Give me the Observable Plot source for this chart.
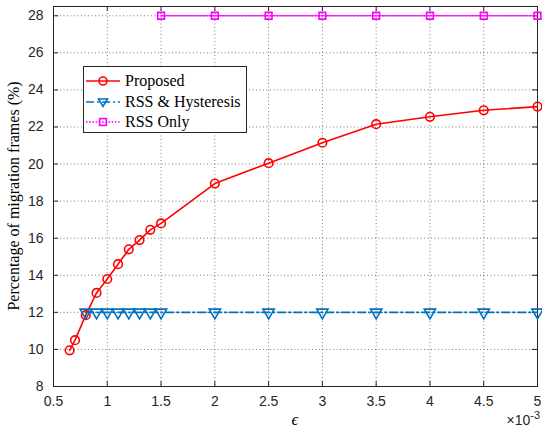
<!DOCTYPE html>
<html><head><meta charset="utf-8">
<script src="https://cdn.jsdelivr.net/npm/d3@7"></script>
<script src="https://cdn.jsdelivr.net/npm/@observablehq/plot@0.6"></script>
<style>
body{margin:0;background:#fff;}
#wrap{position:relative;width:542px;height:434px;overflow:hidden;}
#legend{position:absolute;left:83px;top:66px;width:162px;height:65px;border:1px solid #262626;background:#fff;
  font-family:"Liberation Serif","Times New Roman",serif;font-size:16px;color:#000;}
.row{position:absolute;left:0;height:20px;display:flex;align-items:center;}
.row svg{display:block;}
.row span{margin-left:3px;white-space:nowrap;}
#ylab{position:absolute;left:14px;top:196px;transform:translate(-50%,-50%) rotate(-90deg);white-space:nowrap;
  font-family:"Liberation Serif","Times New Roman",serif;font-size:16px;color:#000;}
#xlab{position:absolute;left:295px;top:430px;transform:translate(-50%,-100%);
  font-family:"Liberation Serif","Times New Roman",serif;font-style:italic;font-size:17px;color:#000;}
#xexp{position:absolute;right:2px;top:409px;font-family:"Liberation Sans",Arial,sans-serif;font-size:14px;color:#262626;}
#xexp sup{font-size:11px;}
</style></head><body><div id="wrap"></div>
<script>
// x values in units of 1e-3
const proposedX = [0.65, 0.7, 0.8, 0.9, 1.0, 1.1, 1.2, 1.3, 1.4, 1.5, 2, 2.5, 3, 3.5, 4, 4.5, 5];
const proposedY = [9.95, 10.5, 11.85, 13.05, 13.8, 14.6, 15.4, 15.9, 16.45, 16.8, 18.95, 20.05, 21.15, 22.15, 22.55, 22.9, 23.1];
const hystX = [0.8, 0.9, 1.0, 1.1, 1.2, 1.3, 1.4, 1.5, 2, 2.5, 3, 3.5, 4, 4.5, 5];
const hystY = [12, 12, 12, 12, 12, 12, 12, 12, 12, 12, 12, 12, 12, 12, 12];
const rssX = [1.5, 2, 2.5, 3, 3.5, 4, 4.5, 5];
const rssY = [28, 28, 28, 28, 28, 28, 28, 28];
const seriesNames = ["Proposed", "RSS & Hysteresis", "RSS Only"];
const xTicks = [0.5, 1, 1.5, 2, 2.5, 3, 3.5, 4, 4.5, 5];
const yTicks = [8, 10, 12, 14, 16, 18, 20, 22, 24, 26, 28];
const xLabel = "\u03F5";
const yLabel = "Percentage of migration frames (%)";

const proposed = proposedX.map((x, i) => ({x, y: proposedY[i]}));
const hyst = hystX.map((x, i) => ({x, y: hystY[i]}));
const rss = rssX.map((x, i) => ({x, y: rssY[i]}));

const W = 542, H = 434, mL = 53, mR = 5, mT = 6, mB = 48;
const plotW = W - mL - mR, plotH = H - mT - mB;
const axisColor = "#262626";
const red = "#ff0000", blue = "#0072BD", mag = "#ff00ff";

const chart = Plot.plot({
  width: W, height: H,
  marginLeft: mL, marginRight: mR, marginTop: mT, marginBottom: mB,
  x: {domain: [0.5, 5], label: null},
  y: {domain: [8, 28.5], label: null},
  style: {fontFamily: "'Liberation Sans', Arial, sans-serif", fontSize: "14px", color: axisColor, background: "white", overflow: "visible"},
  marks: [
    Plot.gridX(xTicks, {stroke: axisColor, strokeOpacity: 0.6, strokeDasharray: "1,2.5"}),
    Plot.gridY(yTicks, {stroke: axisColor, strokeOpacity: 0.6, strokeDasharray: "1,2.5"}),
    Plot.ruleX(xTicks, {insetTop: plotH - 5, stroke: axisColor}),
    Plot.ruleX(xTicks, {insetBottom: plotH - 5, stroke: axisColor}),
    Plot.ruleY(yTicks, {insetRight: plotW - 5, stroke: axisColor}),
    Plot.ruleY(yTicks, {insetLeft: plotW - 5, stroke: axisColor}),
    Plot.frame({stroke: axisColor}),
    Plot.axisX(xTicks, {tickSize: 0, tickPadding: 10, tickFormat: d => String(d), fontSize: 14, fill: axisColor}),
    Plot.axisY(yTicks, {tickSize: 0, tickPadding: 10, tickFormat: d => String(d), fontSize: 14, fill: axisColor}),
    Plot.line(proposed, {x: "x", y: "y", stroke: red, strokeWidth: 1.6}),
    Plot.dot(proposed, {x: "x", y: "y", symbol: "circle", r: 4.3, stroke: red, strokeWidth: 1.6, fill: "none"}),
    Plot.line(hyst, {x: "x", y: "y", stroke: blue, strokeWidth: 1.6, strokeDasharray: "8,3,2,3"}),
    Plot.dot(hyst, {x: "x", y: "y", symbol: "triangle", rotate: 180, r: 4.2, stroke: blue, strokeWidth: 1.6, fill: "none"}),
    Plot.line(rss, {x: "x", y: "y", stroke: mag, strokeWidth: 1.6, strokeDasharray: "1.6,1.6"}),
    Plot.dot(rss, {x: "x", y: "y", symbol: "square", r: 3.8, stroke: mag, strokeWidth: 1.6, fill: "none"})
  ]
});

const wrap = document.getElementById("wrap");
wrap.appendChild(chart);

// legend
const legend = document.createElement("div");
legend.id = "legend";
const samples = [
  `<line x1="2" y1="10" x2="36" y2="10" stroke="${red}" stroke-width="1.6"/><circle cx="19" cy="10" r="4" fill="none" stroke="${red}" stroke-width="1.6"/>`,
  `<line x1="2" y1="10" x2="36" y2="10" stroke="${blue}" stroke-width="1.6" stroke-dasharray="8,3,2,3"/><path d="M14.5,7 L23.5,7 L19,14.5 Z" fill="none" stroke="${blue}" stroke-width="1.6"/>`,
  `<line x1="2" y1="10" x2="36" y2="10" stroke="${mag}" stroke-width="1.6" stroke-dasharray="1.6,1.6"/><rect x="15.6" y="6.6" width="6.8" height="6.8" fill="none" stroke="${mag}" stroke-width="1.6"/>`
];
const rowTops = [4, 25, 45];
seriesNames.forEach((name, i) => {
  const row = document.createElement("div");
  row.className = "row";
  row.style.top = rowTops[i] + "px";
  row.innerHTML = `<svg width="38" height="20">${samples[i]}</svg><span>${name}</span>`;
  legend.appendChild(row);
});
wrap.appendChild(legend);

const yl = document.createElement("div");
yl.id = "ylab"; yl.textContent = yLabel; wrap.appendChild(yl);
const xl = document.createElement("div");
xl.id = "xlab"; xl.textContent = xLabel; wrap.appendChild(xl);
const xe = document.createElement("div");
xe.id = "xexp"; xe.innerHTML = "\u00D710<sup>-3</sup>"; wrap.appendChild(xe);
</script></body></html>
